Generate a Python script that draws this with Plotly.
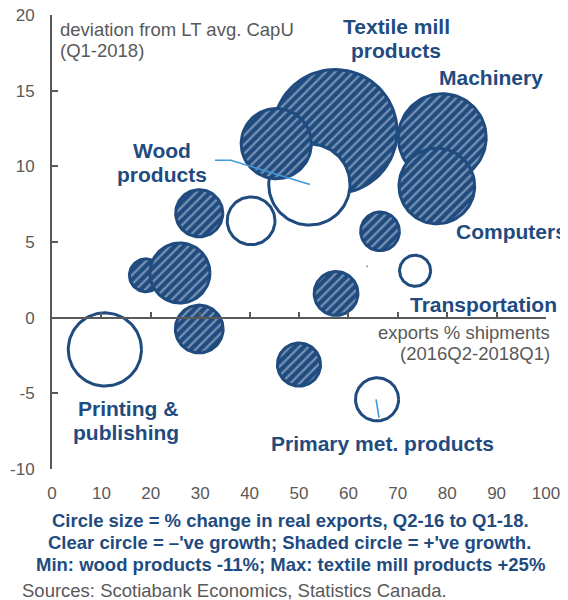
import numpy as np
import plotly.graph_objects as go

# ---------------- data ----------------
industry = ["Textile mill products", "Machinery", "Computers", "Wood products", "",
            "", "", "", "", "", "Printing & publishing", "", "", "Transportation",
            "", "", "Primary met. products"]
exports_share = [57.3, 79.0, 77.9, 52.1, 45.4, 19.0, 25.9, 29.8, 40.3, 29.8,
                 10.7, 66.4, 63.8, 73.5, 57.5, 50.0, 65.8]
capu_deviation = [12.3, 11.9, 8.7, 8.8, 11.5, 2.8, 2.95, 6.9, 6.4, -0.75,
                  -2.1, 5.7, 3.4, 3.1, 1.6, -3.1, -5.4]
export_growth = [25.0, 12.8, 9.6, -11.0, 8.3, 2.0, 6.15, 3.9, -4.0, 4.0,
                 -9.0, 2.7, 0.02, -1.8, 3.4, 3.3, -3.3]

wood_leader_x = [33.0, 36.2, 52.2]
wood_leader_y = [10.4, 10.4, 8.8]
primary_leader_x = [65.6, 66.2]
primary_leader_y = [-5.4, -6.6]

x_ticks = [0, 10, 20, 30, 40, 50, 60, 70, 80, 90, 100]
y_ticks = [-10, -5, 0, 5, 10, 15, 20]
y_tick_labels = ["-10", "-5", "0", "5", "10", "15", "20"]

# ---------------- style / geometry ----------------
OFF = 8                      # page body margin of the browser
W, H = 568 - OFF, 600 - OFF
PLOT_L, PLOT_R, PLOT_T, PLOT_B = 52, 546, 15, 469   # target screen px of plot area
ML, MT = PLOT_L - OFF, PLOT_T - OFF
MR, MB = W + OFF - PLOT_R, H + OFF - PLOT_B
PW, PH = PLOT_R - PLOT_L, PLOT_B - PLOT_T
X_RANGE = [0, 100]
Y_RANGE = [-10, 20]
X_PX = PW / (X_RANGE[1] - X_RANGE[0])
Y_PX = PH / (Y_RANGE[1] - Y_RANGE[0])
K = 12.7  # px of radius per sqrt(% growth)  (area ~ |growth|)

NAVY = "#1F4B7F"
LIGHT = "#CBD6E4"
GRAY = "#595959"
FONT = "Liberation Sans"

fig = go.Figure()

theta = np.linspace(0, 2 * np.pi, 97)
for xv, yv, g in zip(exports_share, capu_deviation, export_growth):
    r_px = K * np.sqrt(abs(g))
    tiny = r_px < 4
    lw = 0.8 if tiny else 3
    rp = 0.7 if tiny else r_px - lw / 2
    xs = xv + rp / X_PX * np.cos(theta)
    ys = yv + rp / Y_PX * np.sin(theta)
    kw = dict(x=xs, y=ys, mode="lines", fill="toself",
              line=dict(color="#5E86B6" if tiny else NAVY, width=lw),
              hoverinfo="skip", showlegend=False)
    if g > 0 and not tiny:
        kw["fillcolor"] = NAVY
        kw["fillpattern"] = dict(shape="/", bgcolor=NAVY, fgcolor=LIGHT,
                                 size=6.5, solidity=0.36)
    elif g > 0:
        kw["fillcolor"] = "#5E86B6"
    else:
        kw["fillcolor"] = "white"
    fig.add_trace(go.Scatter(**kw))

for lx, ly in [(wood_leader_x, wood_leader_y), (primary_leader_x, primary_leader_y)]:
    fig.add_trace(go.Scatter(x=lx, y=ly, mode="lines",
                             line=dict(color="#3C9AD6", width=1.6),
                             hoverinfo="skip", showlegend=False))

# dummy trace for the x-axis drawn through y=0
fig.add_trace(go.Scatter(x=[None], y=[None], xaxis="x2", showlegend=False, hoverinfo="skip"))


def px_paper(px, py):
    return (px - PLOT_L) / PW, (PLOT_B - py) / PH


anns = []


def add_text(text, px, py, size, color, bold=False, anchor="center"):
    xp, yp = px_paper(px, py)
    anns.append(dict(text=f"<b>{text}</b>" if bold else text, x=xp, y=yp,
                     xref="paper", yref="paper", xanchor=anchor, yanchor="middle",
                     showarrow=False, font=dict(family=FONT, size=size, color=color)))


# axis notes
add_text("deviation from LT avg. CapU", 58, 29, 18.5, GRAY, anchor="left")
add_text("(Q1-2018)", 58, 50, 18.5, GRAY, anchor="left")
add_text("exports % shipments", 552, 332, 18.5, GRAY, anchor="right")
add_text("(2016Q2-2018Q1)", 552, 353, 18.5, GRAY, anchor="right")

# series labels
add_text("Textile mill", 396, 27, 21, NAVY, bold=True)
add_text("products", 396, 51, 21, NAVY, bold=True)
add_text("Machinery", 491, 78, 21, NAVY, bold=True)
add_text("Wood", 162, 150, 21, NAVY, bold=True)
add_text("products", 162, 175, 21, NAVY, bold=True)
add_text("Computers", 511, 231, 21, NAVY, bold=True)
add_text("Transportation", 483, 304, 21, NAVY, bold=True)
add_text("Printing &amp;", 128, 408, 21, NAVY, bold=True)
add_text("publishing", 126, 432, 21, NAVY, bold=True)
add_text("Primary met. products", 382, 443, 21, NAVY, bold=True)

# captions
add_text("Circle size = % change in real exports, Q2-16 to Q1-18.", 290, 520, 18.5, NAVY, bold=True)
add_text("Clear circle = \u2013've growth; Shaded circle = +'ve growth.", 289, 542, 18.5, NAVY, bold=True)
add_text("Min: wood products -11%; Max: textile mill products +25%", 290, 564, 18.5, NAVY, bold=True)
add_text("Sources: Scotiabank Economics, Statistics Canada.", 20, 590, 18.5, GRAY, anchor="left")

fig.update_layout(
    width=W, height=H,
    margin=dict(l=ML, r=MR, t=MT, b=MB, autoexpand=False),
    paper_bgcolor="white", plot_bgcolor="white",
    showlegend=False,
    font=dict(family=FONT, color=GRAY),
    xaxis=dict(range=X_RANGE, tickvals=x_ticks, showline=False, ticks="",
               showgrid=False, zeroline=False, ticklabelstandoff=12, automargin=False,
               ticklabeloverflow="allow",
               tickfont=dict(family=FONT, size=17, color=GRAY), fixedrange=True),
    xaxis2=dict(range=X_RANGE, tickvals=x_ticks, overlaying="x", anchor="free",
                position=(0 - Y_RANGE[0]) / (Y_RANGE[1] - Y_RANGE[0]), side="bottom",
                showticklabels=False, showline=True, linecolor=GRAY, linewidth=2,
                ticks="inside", ticklen=5, tickwidth=2, tickcolor=GRAY, automargin=False,
                showgrid=False, zeroline=False),
    yaxis=dict(range=Y_RANGE, tickvals=y_ticks, ticktext=y_tick_labels,
               showline=True, linecolor=GRAY,
               linewidth=2, ticks="inside", ticklen=6, tickwidth=2, tickcolor=GRAY,
               showgrid=False, zeroline=False, ticklabelstandoff=12, automargin=False,
               ticklabeloverflow="allow",
               tickfont=dict(family=FONT, size=17, color=GRAY), fixedrange=True),
    annotations=anns,
)

fig.write_html("out.html")
